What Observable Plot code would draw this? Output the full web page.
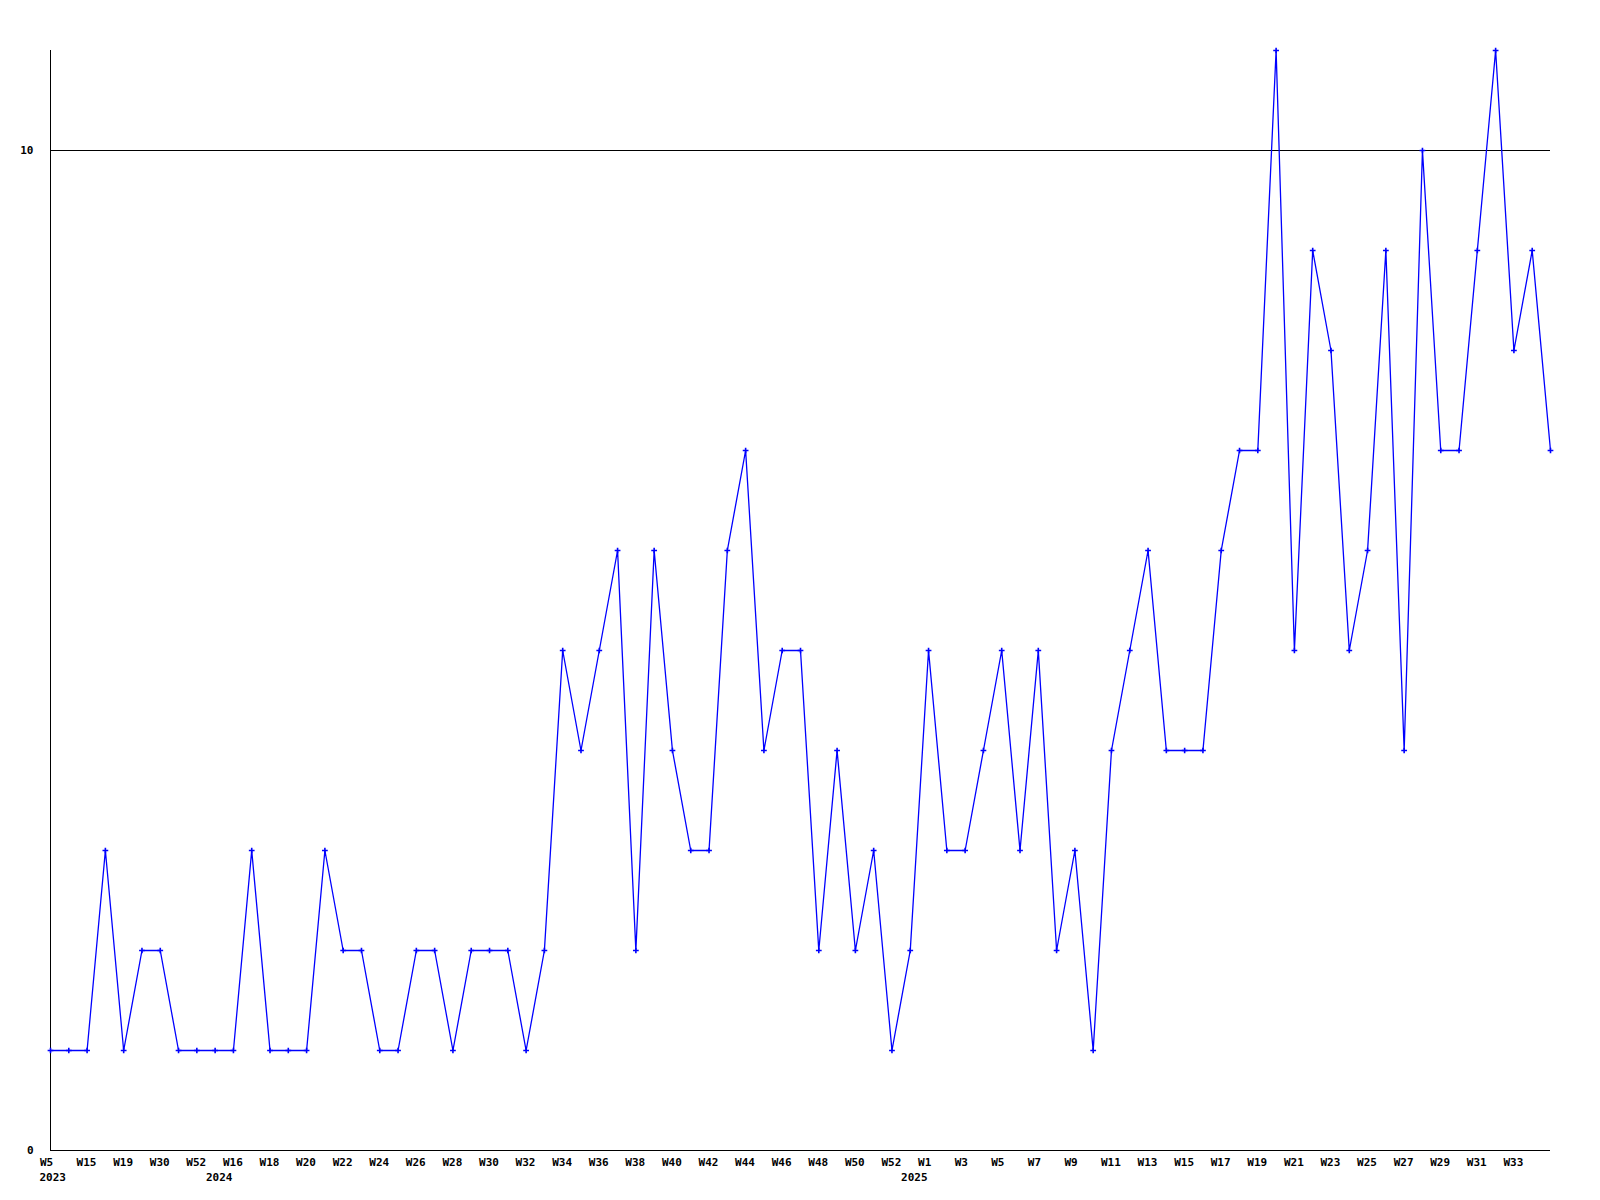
<!DOCTYPE html>
<html>
<head>
<meta charset="utf-8">
<script src="https://cdn.jsdelivr.net/npm/d3@7"></script>
<script src="https://cdn.jsdelivr.net/npm/@observablehq/plot@0.6"></script>
<style>
  html, body { margin: 0; padding: 0; background: #ffffff; }
  #chart svg { display: block; }
</style>
</head>
<body>
<div id="chart"></div>
<script>
// Weekly counts (83 consecutive points)
const values = [
  1, 1, 1, 3, 1, 2, 2, 1, 1, 1,
  1, 3, 1, 1, 1, 3, 2, 2, 1, 1,
  2, 2, 1, 2, 2, 2, 1, 2, 5, 4,
  5, 6, 2, 6, 4, 3, 3, 6, 7, 4,
  5, 5, 2, 4, 2, 3, 1, 2, 5, 3,
  3, 4, 5, 3, 5, 2, 3, 1, 4, 5,
  6, 4, 4, 4, 6, 7, 7, 11, 5, 9,
  8, 5, 6, 9, 4, 10, 7, 7, 9, 11,
  8, 9, 7
];

// Tick labels, one for every second point
const tickLabels = [
  "W5", "W15", "W19", "W30", "W52", "W16", "W18", "W20", "W22", "W24",
  "W26", "W28", "W30", "W32", "W34", "W36", "W38", "W40", "W42", "W44",
  "W46", "W48", "W50", "W52", "W1", "W3", "W5", "W7", "W9", "W11",
  "W13", "W15", "W17", "W19", "W21", "W23", "W25", "W27", "W29", "W31",
  "W33"
];

// Year labels and the point they belong to
const yearLabels = ["2023", "2024", "2025"];
const yearPoints = [0, 10, 48];

const yTicks = [0, 10];

const data = values.map((v, i) => ({i, v}));
const ticks = tickLabels.map((label, k) => ({i: k * 2, label}));
const years = yearLabels.map((label, k) => ({i: yearPoints[k], label}));

const font = {fontFamily: "'DejaVu Sans Mono', 'Liberation Mono', monospace", fontSize: 11, fontWeight: "bold", fill: "#000000"};

const chart = Plot.plot({
  width: 1600,
  height: 1200,
  marginLeft: 50,
  marginRight: 50,
  marginTop: 50,
  marginBottom: 50,
  style: {background: "#ffffff", fontFamily: "'DejaVu Sans Mono', monospace", fontSize: "11px", fontWeight: "bold", color: "#000"},
  x: {domain: [0, values.length - 1], axis: null},
  y: {domain: [0, 11], axis: null},
  marks: [
    Plot.ruleY([10], {stroke: "#000000", strokeWidth: 1, shapeRendering: "crispEdges"}),
    Plot.ruleY([0], {stroke: "#000000", strokeWidth: 1, shapeRendering: "crispEdges"}),
    Plot.ruleX([0], {y1: 0, y2: 11, stroke: "#000000", strokeWidth: 1, shapeRendering: "crispEdges"}),
    Plot.text(yTicks, {x: () => 0, y: d => d, text: d => String(d), textAnchor: "end", dx: -17, ...font}),
    Plot.text(ticks, {x: "i", y: () => 0, text: "label", textAnchor: "start", dx: -10.5, dy: 12, ...font}),
    Plot.text(years.slice(0, 1), {x: "i", y: () => 0, text: "label", textAnchor: "start", dx: -11, dy: 27, ...font}),
    Plot.text(years.slice(1), {x: "i", y: () => 0, text: "label", textAnchor: "end", dx: -1, dy: 27, ...font}),
    Plot.line(data, {x: "i", y: "v", stroke: "#0000ff", strokeWidth: 1.3}),
    Plot.dot(data, {x: "i", y: "v", symbol: "plus", r: 2, stroke: "#0000ff", strokeWidth: 1.6})
  ]
});

document.getElementById("chart").appendChild(chart);
</script>
</body>
</html>
